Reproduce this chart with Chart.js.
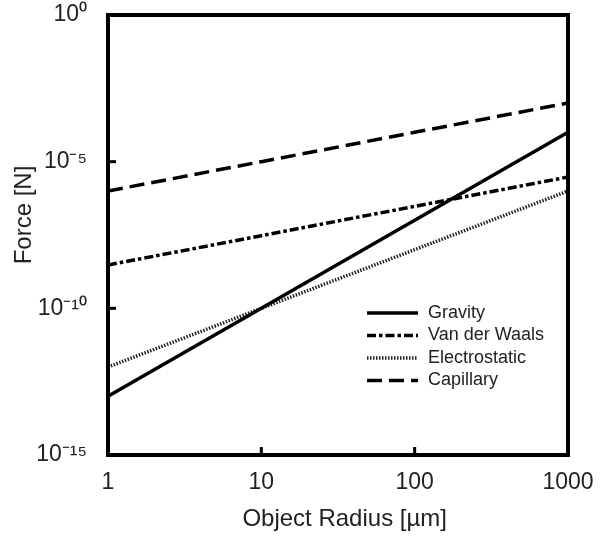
<!DOCTYPE html>
<html lang="en">
<head>
  <meta charset="UTF-8">
  <title>Force vs Object Radius</title>
  <script src="https://cdn.jsdelivr.net/npm/chart.js"></script>
  <style>
    html, body { margin: 0; padding: 0; background: #fff; }
    #wrap { width: 600px; height: 536px; }
  </style>
</head>
<body>
<div id="wrap"><canvas id="forceChart"></canvas></div>

<script>
  // data
  const radius = [1, 10, 100, 1000];
  const gravity = [1e-13, 1e-10, 1e-7, 1e-4];
  const vanDerWaals = [3e-9, 3e-8, 3e-7, 3e-6];
  const electrostatic = [1e-12, 1e-10, 1e-8, 1e-6];
  const capillary = [1e-6, 1e-5, 1e-4, 1e-3];

  const xTicks = [1, 10, 100, 1000];
  const xTickLabels = ['1', '10', '100', '1000'];
  const yTicks = [1e-15, 1e-10, 1e-5, 1];
  const yTickLabels = ['10⁻¹⁵', '10⁻¹⁰', '10⁻⁵', '10⁰'];

  const FONT = "'Liberation Sans', Arial, sans-serif";
  const TEXT = '#222';

  const pts = vals => radius.map((r, i) => ({x: r, y: vals[i]}));

  // no extra room for overflowing labels, the box is placed by layout.padding
  const noPad = s => { s.paddingTop = 0; s.paddingBottom = 0; s.paddingLeft = 0; s.paddingRight = 0; };

  // box, inward tick marks and legend inside the plot
  const frame = {
    id: 'frame',
    afterDraw(chart) {
      const {ctx, chartArea: a, scales: {x, y}} = chart;
      ctx.save();
      ctx.strokeStyle = '#000';
      ctx.lineWidth = 4;
      ctx.strokeRect(a.left, a.top, a.right - a.left, a.bottom - a.top);

      ctx.lineWidth = 3;
      x.ticks.forEach(t => {
        const px = x.getPixelForValue(t.value);
        ctx.beginPath(); ctx.moveTo(px, a.bottom); ctx.lineTo(px, a.bottom - 8); ctx.stroke();
      });
      y.ticks.forEach(t => {
        const py = y.getPixelForValue(t.value);
        ctx.beginPath(); ctx.moveTo(a.left, py); ctx.lineTo(a.left + 8, py); ctx.stroke();
      });

      // legend
      const lx = a.right - 201, ty = a.top + 298;
      ctx.font = '18px ' + FONT;
      ctx.textBaseline = 'middle';
      chart.data.datasets.forEach((ds, i) => {
        const yy = ty + i * 22.5;
        ctx.strokeStyle = ds.borderColor;
        ctx.lineWidth = ds.borderWidth;
        ctx.setLineDash(ds.borderDash || []);
        ctx.beginPath(); ctx.moveTo(lx, yy); ctx.lineTo(lx + 51, yy); ctx.stroke();
        ctx.setLineDash([]);
        ctx.fillStyle = TEXT;
        ctx.fillText(ds.label, lx + 61, yy);
      });
      ctx.restore();
    }
  };

  const forceChart = new Chart(document.getElementById('forceChart').getContext('2d'), {
    type: 'line',
    data: {
      datasets: [
        {label: 'Gravity', data: pts(gravity), borderColor: '#000', borderWidth: 3.5},
        {label: 'Van der Waals', data: pts(vanDerWaals), borderColor: '#000', borderWidth: 3.5, borderDash: [9, 3, 3.5, 3]},
        {label: 'Electrostatic', data: pts(electrostatic), borderColor: '#222', borderWidth: 3.5, borderDash: [1.5, 1.5]},
        {label: 'Capillary', data: pts(capillary), borderColor: '#000', borderWidth: 3.5, borderDash: [15, 7]}
      ]
    },
    options: {
      responsive: true,
      maintainAspectRatio: false,
      animation: false,
      elements: {point: {radius: 0}, line: {tension: 0}},
      layout: {padding: {top: 15, right: 32, left: 0, bottom: 0}},
      plugins: {legend: {display: false}, tooltip: {enabled: false}},
      scales: {
        x: {
          type: 'logarithmic',
          min: 1,
          max: 1000,
          afterBuildTicks: s => { s.ticks = xTicks.map(v => ({value: v})); },
          afterFit: s => { s.height = 81; noPad(s); },
          grid: {display: false, drawTicks: false},
          border: {display: false},
          ticks: {
            autoSkip: false, maxRotation: 0, padding: 14, color: TEXT,
            font: {family: FONT, size: 23},
            callback: v => xTickLabels[xTicks.indexOf(v)]
          },
          title: {
            display: true, text: '  Object Radius [µm]', color: TEXT,
            font: {family: FONT, size: 24}, padding: {top: 0, bottom: 2}
          }
        },
        y: {
          type: 'logarithmic',
          min: 1e-15,
          max: 1,
          afterBuildTicks: s => { s.ticks = yTicks.map(v => ({value: v})); },
          afterFit: s => { s.width = 108; noPad(s); },
          grid: {display: false, drawTicks: false},
          border: {display: false},
          ticks: {
            autoSkip: false, padding: 21, color: TEXT,
            font: {family: FONT, size: 23},
            callback: v => yTickLabels[yTicks.indexOf(v)]
          },
          title: {
            display: true, text: '      Force [N]', color: TEXT,
            font: {family: FONT, size: 24}, padding: {top: 10, bottom: 0}
          }
        }
      }
    },
    plugins: [frame]
  });
</script>
</body>
</html>
